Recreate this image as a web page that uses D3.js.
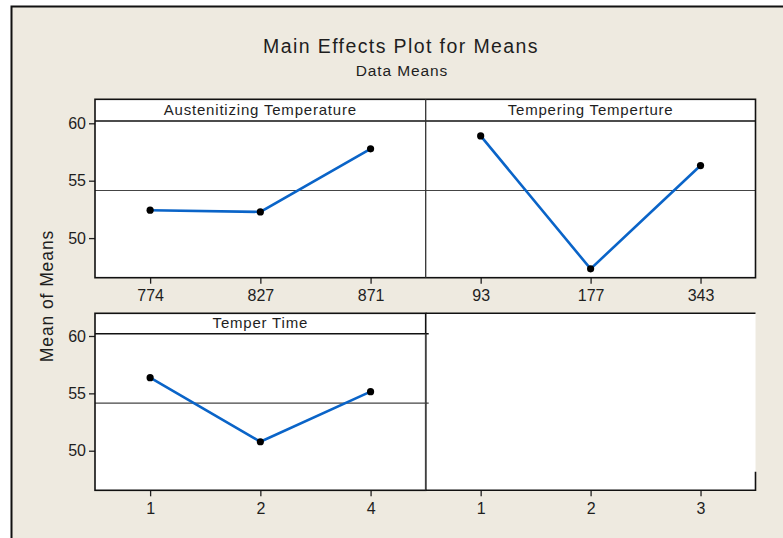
<!DOCTYPE html>
<html>
<head>
<meta charset="utf-8">
<script src="https://cdn.jsdelivr.net/npm/d3@7"></script>
<style>
  body { margin: 0; background: #fff; }
  text { font-family: "Liberation Sans", Arial, sans-serif; fill: #1e1e1e; }
</style>
</head>
<body>
<script>
const w = 783;
const h = 538;

// data
const factors = ["Austenitizing Temperature", "Tempering Temperture", "Temper Time"];
const levels = [
  ["774", "827", "871"],
  ["93", "177", "343"],
  ["1", "2", "4"]
];
const means = [
  [52.43, 52.28, 57.78],
  [58.9, 47.32, 56.32],
  [56.37, 50.78, 55.15]
];
const grandMean = 54.15;
const emptyLevels = ["1", "2", "3"];
const yTicks = [50, 55, 60];

// layout
const cols = [95, 425.7, 755.5];
const rows = [
  { top: 99.3, strip: 121, bottom: 277.7 },
  { top: 313.3, strip: 333.7, bottom: 490.3 }
];

const svg = d3.select("body").append("svg").attr("width", w).attr("height", h);

// frame + background
svg.append("rect").attr("x", 0).attr("y", 0).attr("width", w).attr("height", h).attr("fill", "#fff");
svg.append("rect").attr("x", 11.5).attr("y", 6.5).attr("width", w).attr("height", h)
  .attr("fill", "#eeeae0").attr("stroke", "#111").attr("stroke-width", 2);

// titles
svg.append("text").attr("x", 401).attr("y", 53.3).attr("text-anchor", "middle")
  .style("font-size", "19.5px").style("letter-spacing", "1.4px")
  .text("Main Effects Plot for Means");
svg.append("text").attr("x", 402).attr("y", 75.7).attr("text-anchor", "middle")
  .style("font-size", "15.5px").style("letter-spacing", "0.9px")
  .text("Data Means");

svg.append("text")
  .attr("transform", "translate(53,296) rotate(-90)")
  .attr("text-anchor", "middle")
  .style("font-size", "17.5px").style("letter-spacing", "0.9px")
  .text("Mean of Means");

// white panel areas
rows.forEach((r) => {
  svg.append("rect").attr("x", cols[0]).attr("y", r.top)
    .attr("width", cols[2] - cols[0]).attr("height", r.bottom - r.top).attr("fill", "#fff");
});

function yScaleFor(r) {
  return d3.scaleLinear().domain([46.55, 60.2]).range([r.bottom, r.strip]);
}

function xScaleFor(col, lv) {
  return d3.scalePoint().domain(lv).range([cols[col], cols[col + 1]]).padding(0.5);
}

function styleAxis(g) {
  g.select(".domain").remove();
  g.selectAll(".tick line").attr("stroke", "#222").attr("stroke-width", 1.3);
  g.selectAll(".tick text").style("font-size", "16px").style("font-family", "Liberation Sans, Arial, sans-serif").attr("fill", "#1e1e1e");
}

// y axes on the left of each row
rows.forEach((r) => {
  const y = yScaleFor(r);
  svg.append("g")
    .attr("transform", "translate(" + cols[0] + ",0)")
    .call(d3.axisLeft(y).tickValues(yTicks).tickSize(6).tickPadding(3))
    .call(styleAxis);
});

// reference lines: strip line + grand mean
rows.forEach((r, ri) => {
  const y = yScaleFor(r);
  const xEnd = ri === 0 ? cols[2] : cols[1] + 3;
  svg.append("line").attr("x1", cols[0]).attr("x2", xEnd)
    .attr("y1", y(grandMean)).attr("y2", y(grandMean))
    .attr("stroke", "#444").attr("stroke-width", 1.1);
  svg.append("line").attr("x1", cols[0]).attr("x2", xEnd)
    .attr("y1", r.strip).attr("y2", r.strip)
    .attr("stroke", "#111").attr("stroke-width", 1.6);
});

// factor panels
factors.forEach((f, i) => {
  const col = i % 2;
  const r = rows[Math.floor(i / 2)];
  const x = xScaleFor(col, levels[i]);
  const y = yScaleFor(r);
  const pts = levels[i].map((lv, j) => ({ lv: lv, v: means[i][j] }));

  svg.append("text")
    .attr("x", (cols[col] + cols[col + 1]) / 2)
    .attr("y", r.strip - 6)
    .attr("text-anchor", "middle")
    .style("font-size", "15px").style("letter-spacing", "0.8px")
    .text(f);

  const line = d3.line().x((d) => x(d.lv)).y((d) => y(d.v));
  svg.append("path").datum(pts)
    .attr("d", line)
    .attr("fill", "none")
    .attr("stroke", "#0a64c8")
    .attr("stroke-width", 2.6);

  svg.selectAll(null).data(pts).enter().append("circle")
    .attr("cx", (d) => x(d.lv))
    .attr("cy", (d) => y(d.v))
    .attr("r", 3.6)
    .attr("fill", "#000");

  svg.append("g")
    .attr("transform", "translate(0," + r.bottom + ")")
    .call(d3.axisBottom(x).tickSize(6).tickPadding(6))
    .call(styleAxis);
});

// empty 4th panel: only x ticks
const xe = xScaleFor(1, emptyLevels);
svg.append("g")
  .attr("transform", "translate(0," + rows[1].bottom + ")")
  .call(d3.axisBottom(xe).tickSize(6).tickPadding(6))
  .call(styleAxis);

// borders
const r0 = rows[0], r1 = rows[1];
svg.append("rect").attr("x", cols[0]).attr("y", r0.top)
  .attr("width", cols[2] - cols[0]).attr("height", r0.bottom - r0.top)
  .attr("fill", "none").attr("stroke", "#111").attr("stroke-width", 1.6);
svg.append("rect").attr("x", cols[0]).attr("y", r1.top)
  .attr("width", cols[1] - cols[0]).attr("height", r1.bottom - r1.top)
  .attr("fill", "none").attr("stroke", "#111").attr("stroke-width", 1.6);
// dividers
svg.append("line").attr("x1", cols[1]).attr("x2", cols[1])
  .attr("y1", r0.top).attr("y2", r0.bottom).attr("stroke", "#333").attr("stroke-width", 1.3);
svg.append("line").attr("x1", cols[1]).attr("x2", cols[1])
  .attr("y1", r1.strip).attr("y2", r1.bottom).attr("stroke", "#444").attr("stroke-width", 1.3);
// open-right frame of empty panel
svg.append("path")
  .attr("d", "M" + cols[1] + "," + r1.top + "H" + cols[2] +
    "M" + cols[1] + "," + r1.bottom + "H" + cols[2] + "V" + (r1.bottom - 18.5))
  .attr("fill", "none").attr("stroke", "#111").attr("stroke-width", 1.6);
</script>
</body>
</html>
